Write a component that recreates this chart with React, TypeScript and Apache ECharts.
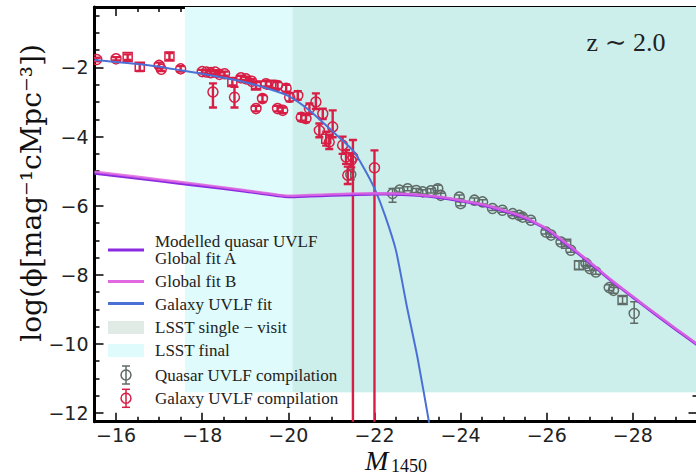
import React, { useEffect, useRef } from "react";
import * as echarts from "echarts";

// ---------- data ----------
const xMajorTicks = [-16, -18, -20, -22, -24, -26, -28];
const yMajorTicks = [-2, -4, -6, -8, -10, -12];

// LSST limits
const lsstFinalLimit = -17.6;
const lsstSingleLimit = -20.1;
const lsstDepth = -11.4;

// Modelled quasar UVLF, global fit A
const fitAM = [-15.5, -16, -17, -18, -19, -20, -20.5, -21, -21.5, -22, -22.5, -23, -23.5, -24, -24.5, -25, -25.5, -26, -26.5, -27, -27.5, -28, -28.5, -29, -29.5];
const fitAPhi = [-5.06, -5.13, -5.28, -5.43, -5.58, -5.74, -5.72, -5.7, -5.68, -5.66, -5.67, -5.7, -5.76, -5.86, -5.98, -6.15, -6.36, -6.68, -7.15, -7.65, -8.17, -8.65, -9.12, -9.58, -10.03];
// Global fit B
const fitBM = [-15.5, -16, -17, -18, -19, -20, -20.5, -21, -21.5, -22, -22.5, -23, -23.5, -24, -24.5, -25, -25.5, -26, -26.5, -27, -27.5, -28, -28.5, -29, -29.5];
const fitBPhi = [-5.02, -5.09, -5.24, -5.39, -5.55, -5.71, -5.69, -5.67, -5.65, -5.64, -5.65, -5.68, -5.74, -5.84, -5.96, -6.13, -6.34, -6.66, -7.13, -7.63, -8.15, -8.63, -9.1, -9.56, -10.01];
// Galaxy UVLF fit
const galFitM = [-15.5, -16, -16.5, -17, -17.5, -18, -18.5, -19, -19.5, -20, -20.5, -21, -21.5, -21.75, -22, -22.25, -22.5, -22.75, -23, -23.3];
const galFitPhi = [-1.78, -1.84, -1.9, -1.98, -2.08, -2.18, -2.3, -2.43, -2.6, -2.82, -3.25, -3.82, -4.4, -4.9, -5.5, -6.3, -7.3, -8.9, -10.4, -12.5];

// Galaxy UVLF compilation (marker 0 = circle, 1 = square)
const galaxyM = [-15.55, -16.0, -16.27, -16.55, -17.0, -17.05, -17.24, -17.5, -18.0, -18.1, -18.2, -18.3, -18.4, -18.52, -18.25, -18.7, -18.75, -18.9, -19.02, -19.15, -19.25, -19.25, -19.4, -19.48, -19.6, -19.75, -19.75, -19.87, -19.95, -20.03, -20.22, -20.3, -20.41, -20.49, -20.64, -20.8, -20.72, -20.88, -21.03, -20.95, -21.26, -21.34, -21.38, -21.46, -21.5, -22.0];
const galaxyPhi = [-1.77, -1.75, -1.7, -1.98, -1.94, -2.05, -1.68, -2.04, -2.12, -2.13, -2.15, -2.13, -2.2, -2.18, -2.71, -2.42, -2.86, -2.3, -2.33, -2.4, -2.52, -3.19, -2.9, -2.47, -2.5, -2.52, -3.19, -3.24, -2.6, -2.86, -2.81, -3.44, -3.48, -3.19, -3.0, -3.34, -3.82, -4.06, -3.72, -4.16, -4.25, -4.59, -5.12, -4.69, -4.6, -4.9];
const galaxyErrLow = [0.05, 0.05, 0.08, 0.12, 0.08, 0.05, 0.1, 0.08, 0.05, 0.05, 0.05, 0.05, 0.06, 0.06, 0.45, 0.1, 0.3, 0.06, 0.06, 0.06, 0.1, 0.08, 0.1, 0.08, 0.1, 0.1, 0.08, 0.08, 0.1, 0.12, 0.12, 0.1, 0.1, 0.15, 0.2, 0.15, 0.2, 0.2, 0.3, 0.2, 0.25, 0.2, 0.25, 0.2, 9.0, 9.0];
const galaxyErrHigh = [0.05, 0.05, 0.08, 0.1, 0.08, 0.05, 0.1, 0.08, 0.05, 0.05, 0.05, 0.05, 0.06, 0.06, 0.25, 0.1, 0.3, 0.06, 0.06, 0.06, 0.1, 0.08, 0.1, 0.08, 0.1, 0.1, 0.08, 0.08, 0.1, 0.12, 0.12, 0.1, 0.1, 0.15, 0.25, 0.15, 0.2, 0.2, 0.48, 0.2, 0.25, 0.2, 0.25, 0.2, 0.5, 0.5];
const galaxyMarker = [0, 0, 1, 1, 0, 0, 1, 0, 0, 0, 0, 0, 0, 0, 0, 1, 0, 0, 0, 0, 1, 0, 0, 0, 1, 0, 0, 0, 0, 0, 0, 0, 0, 0, 0, 0, 0, 1, 0, 0, 0, 0, 0, 0, 0, 0];

// Quasar UVLF compilation
const quasarM = [-21.45, -22.42, -22.58, -22.77, -22.97, -23.12, -23.31, -23.47, -23.54, -23.97, -24.0, -24.32, -24.51, -24.74, -24.97, -25.21, -25.36, -25.44, -25.63, -25.98, -26.1, -26.33, -26.45, -26.56, -26.75, -26.91, -27.0, -27.14, -27.45, -27.55, -27.76, -28.03];
const quasarPhi = [-5.1, -5.65, -5.55, -5.51, -5.56, -5.6, -5.57, -5.51, -5.7, -5.75, -5.94, -5.84, -5.89, -6.08, -6.13, -6.23, -6.28, -6.33, -6.42, -6.76, -6.85, -7.05, -7.1, -7.29, -7.72, -7.67, -7.82, -7.92, -8.37, -8.45, -8.73, -9.12];
const quasarErrLow = [0.15, 0.25, 0.06, 0.06, 0.06, 0.06, 0.06, 0.06, 0.06, 0.06, 0.06, 0.06, 0.06, 0.06, 0.06, 0.06, 0.06, 0.06, 0.06, 0.06, 0.06, 0.06, 0.08, 0.06, 0.12, 0.06, 0.06, 0.06, 0.08, 0.08, 0.1, 0.28];
const quasarErrHigh = [0.15, 0.15, 0.06, 0.06, 0.06, 0.06, 0.06, 0.1, 0.06, 0.06, 0.06, 0.06, 0.06, 0.06, 0.06, 0.06, 0.06, 0.06, 0.06, 0.06, 0.06, 0.06, 0.08, 0.06, 0.12, 0.06, 0.06, 0.06, 0.08, 0.08, 0.1, 0.34];
const quasarMarker = [0, 0, 0, 0, 0, 0, 0, 0, 0, 0, 0, 0, 0, 0, 0, 0, 0, 0, 0, 0, 0, 0, 1, 0, 1, 0, 0, 0, 0, 0, 1, 0];

const legendLabels = [
  "Modelled quasar UVLF\nGlobal fit A",
  "Global fit B",
  "Galaxy UVLF fit",
  "LSST single \u2212 visit",
  "LSST final",
  "Quasar UVLF compilation",
  "Galaxy UVLF compilation",
];

// ---------- styles ----------
const C_GAL = "#d81e45";
const C_QSO = "#5f6b66";
const C_BLUE = "#4a70d6";
const C_A = "#8a2be2";
const C_B = "#e068e0";
const C_FINAL = "#e0fbfb";
const C_SINGLE = "#ccefec";
const C_SINGLE_LEG = "#e1ebe5";
const SERIF = "'Liberation Serif', 'DejaVu Serif', serif";
const DSERIF = "'DejaVu Serif', serif";
const SANS = "'DejaVu Sans', sans-serif";

const X_MIN = -29.5, X_MAX = -15.5, Y_MIN = -12.25, Y_MAX = -0.25;

function minorTicks(lo: number, hi: number, majors: number[]) {
  const out: number[] = [];
  for (let v = Math.ceil(lo * 2) / 2; v <= hi + 1e-9; v += 0.5) {
    const r = Math.round(v * 2) / 2;
    if (!majors.includes(r) && r > lo + 1e-6 && r < hi - 1e-6) out.push(r);
  }
  return out;
}

const fmt = (v: number) => String(v).replace("-", "\u2212");

function errRender(color: string, lw: number) {
  return (params: any, api: any) => {
    const x = api.value(0), y = api.value(1), lo = api.value(2), hi = api.value(3), sym = api.value(4);
    const p = api.coord([x, y]);
    const pl = api.coord([x, y - lo]);
    const ph = api.coord([x, y + hi]);
    const cap = 4;
    const ls = { stroke: color, lineWidth: lw };
    const children: any[] = [
      { type: "line", shape: { x1: p[0], y1: pl[1], x2: p[0], y2: ph[1] }, style: ls },
      { type: "line", shape: { x1: p[0] - cap, y1: pl[1], x2: p[0] + cap, y2: pl[1] }, style: ls },
      { type: "line", shape: { x1: p[0] - cap, y1: ph[1], x2: p[0] + cap, y2: ph[1] }, style: ls },
    ];
    if (sym === 1) {
      children.push({ type: "rect", shape: { x: p[0] - 4.5, y: p[1] - 4.5, width: 9, height: 9 }, style: { stroke: color, fill: "none", lineWidth: 1.5 } });
    } else {
      children.push({ type: "circle", shape: { cx: p[0], cy: p[1], r: 5 }, style: { stroke: color, fill: "none", lineWidth: 1.5 } });
    }
    return { type: "group", children };
  };
}

export default function App() {
  const ref = useRef<HTMLDivElement>(null);
  useEffect(() => {
    if (!ref.current) return;
    const chart = echarts.init(ref.current, null, { renderer: "svg" });

    const xMinor = minorTicks(X_MIN, X_MAX, xMajorTicks);
    const yMinor = minorTicks(Y_MIN, Y_MAX, yMajorTicks);

    const xAx = (position: string, ticks: number[], len: number, line: boolean, labels: boolean) => ({
      type: "value", position, min: X_MIN, max: X_MAX, inverse: true,
      axisLine: { show: line, onZero: false, lineStyle: { color: "#000", width: 3 } },
      axisTick: { show: true, inside: true, length: len, customValues: ticks, lineStyle: { color: "#000", width: 1.5 } },
      axisLabel: labels
        ? { show: true, customValues: xMajorTicks, formatter: fmt, fontSize: 19, fontFamily: SANS, color: "#222", margin: 4 }
        : { show: false },
      splitLine: { show: false },
    });
    const yAx = (position: string, ticks: number[], len: number, line: boolean, labels: boolean) => ({
      type: "value", position, min: Y_MIN, max: Y_MAX,
      axisLine: { show: line, onZero: false, lineStyle: { color: "#000", width: 3 } },
      axisTick: { show: true, inside: true, length: len, customValues: ticks, lineStyle: { color: "#000", width: 1.5 } },
      axisLabel: labels
        ? { show: true, customValues: yMajorTicks, formatter: fmt, fontSize: 19, fontFamily: SANS, color: "#222", margin: 6 }
        : { show: false },
      splitLine: { show: false },
    });

    const galaxyData = galaxyM.map((m, i) => [m, galaxyPhi[i], galaxyErrLow[i], galaxyErrHigh[i], galaxyMarker[i]]);
    const quasarData = quasarM.map((m, i) => [m, quasarPhi[i], quasarErrLow[i], quasarErrHigh[i], quasarMarker[i]]);

    // legend graphics
    const LX = 108, LW = 36, TX = 155;
    const rowY = [250, 281.5, 304, 327.5, 350.5, 375, 398.3];
    const legendText = legendLabels.map((t, i) => ({
      type: "text", x: TX, y: rowY[i], z: 100,
      style: { text: t, font: `17px ${SERIF}`, lineHeight: 17.2, fill: "#222", textVerticalAlign: "middle" },
    }));
    const errIcon = (cy: number, color: string) => [
      { type: "line", z: 100, shape: { x1: LX + 18, y1: cy - 9, x2: LX + 18, y2: cy + 9 }, style: { stroke: color, lineWidth: 1.5 } },
      { type: "line", z: 100, shape: { x1: LX + 14, y1: cy - 9, x2: LX + 22, y2: cy - 9 }, style: { stroke: color, lineWidth: 1.5 } },
      { type: "line", z: 100, shape: { x1: LX + 14, y1: cy + 9, x2: LX + 22, y2: cy + 9 }, style: { stroke: color, lineWidth: 1.5 } },
      { type: "circle", z: 100, shape: { cx: LX + 18, cy, r: 5 }, style: { stroke: color, fill: "none", lineWidth: 1.5 } },
    ];

    chart.setOption({
      animation: false,
      grid: { left: 94.5, top: 7, width: 603, height: 414.7, containLabel: false },
      xAxis: [
        xAx("bottom", xMajorTicks, 9, true, true),
        xAx("bottom", xMinor, 5, false, false),
        xAx("top", xMajorTicks, 9, true, false),
        xAx("top", xMinor, 5, false, false),
      ],
      yAxis: [
        yAx("left", yMajorTicks, 9, true, true),
        yAx("left", yMinor, 5, false, false),
        yAx("right", yMajorTicks, 9, true, false),
        yAx("right", yMinor, 5, false, false),
      ],
      series: [
        {
          type: "line", name: "regions", data: [[X_MAX, Y_MIN]], showSymbol: false, silent: true, z: 0,
          lineStyle: { opacity: 0 },
          markArea: {
            silent: true, label: { show: false },
            data: [
              [{ coord: [lsstFinalLimit, lsstDepth], itemStyle: { color: C_FINAL } }, { coord: [X_MIN, Y_MAX] }],
              [{ coord: [lsstSingleLimit, lsstDepth], itemStyle: { color: C_SINGLE } }, { coord: [X_MIN, Y_MAX] }],
            ],
          },
        },
        {
          type: "custom", name: "Quasar UVLF compilation", renderItem: errRender(C_QSO, 1.5),
          data: quasarData, encode: { x: 0, y: 1 }, clip: true, z: 3, silent: true,
        },
        {
          type: "custom", name: "Galaxy UVLF compilation", renderItem: errRender(C_GAL, 2.4),
          data: galaxyData, encode: { x: 0, y: 1 }, clip: true, z: 3, silent: true,
        },
        {
          type: "line", name: "Galaxy UVLF fit", data: galFitM.map((m, i) => [m, galFitPhi[i]]),
          showSymbol: false, smooth: 0.2, lineStyle: { color: C_BLUE, width: 2 }, z: 4, silent: true,
        },
        {
          type: "line", name: "Global fit A", data: fitAM.map((m, i) => [m, fitAPhi[i]]),
          showSymbol: false, smooth: 0.15, lineStyle: { color: C_A, width: 3 }, z: 5, silent: true,
        },
        {
          type: "line", name: "Global fit B", data: fitBM.map((m, i) => [m, fitBPhi[i]]),
          showSymbol: false, smooth: 0.15, lineStyle: { color: C_B, width: 2.5, opacity: 0.85 }, z: 5, silent: true,
        },
      ],
      graphic: [
        // legend handles
        { type: "line", z: 100, shape: { x1: LX, y1: 250, x2: LX + LW, y2: 250 }, style: { stroke: C_A, lineWidth: 3 } },
        { type: "line", z: 100, shape: { x1: LX, y1: 281.5, x2: LX + LW, y2: 281.5 }, style: { stroke: C_B, lineWidth: 3 } },
        { type: "line", z: 100, shape: { x1: LX, y1: 303.5, x2: LX + LW, y2: 303.5 }, style: { stroke: C_BLUE, lineWidth: 3 } },
        { type: "rect", z: 100, shape: { x: LX, y: 321, width: LW, height: 13 }, style: { fill: C_SINGLE_LEG } },
        { type: "rect", z: 100, shape: { x: LX, y: 344, width: LW, height: 13 }, style: { fill: C_FINAL } },
        ...errIcon(375, C_QSO),
        ...errIcon(398.3, C_GAL),
        ...legendText,
        // z label
        { type: "text", z: 100, x: 626, y: 42, style: { text: "z \u223C 2.0", font: `26px ${SERIF}`, fill: "#222", textAlign: "center", textVerticalAlign: "middle" } },
        // axis titles
        { type: "text", z: 100, x: 31, y: 193, rotation: Math.PI / 2, style: { text: "log(\u03D5[mag\u207B\u00B9cMpc\u207B\u00B3])", font: `28px ${DSERIF}`, fill: "#111", textAlign: "center", textVerticalAlign: "middle" } },
        { type: "text", z: 100, x: 365, y: 474, style: { text: "M", font: `italic 28px ${SERIF}`, fill: "#111", textVerticalAlign: "bottom" } },
        { type: "text", z: 100, x: 391, y: 475, style: { text: "1450", font: `18px ${SERIF}`, fill: "#111", textVerticalAlign: "bottom" } },
      ],
    });
    return () => chart.dispose();
  }, []);
  return (
    <div style={{ position: "absolute", left: 0, top: 0, width: 696, height: 475, overflow: "hidden", background: "#fff" }}>
      <div ref={ref} style={{ width: 700, height: 475 }} />
    </div>
  );
}
